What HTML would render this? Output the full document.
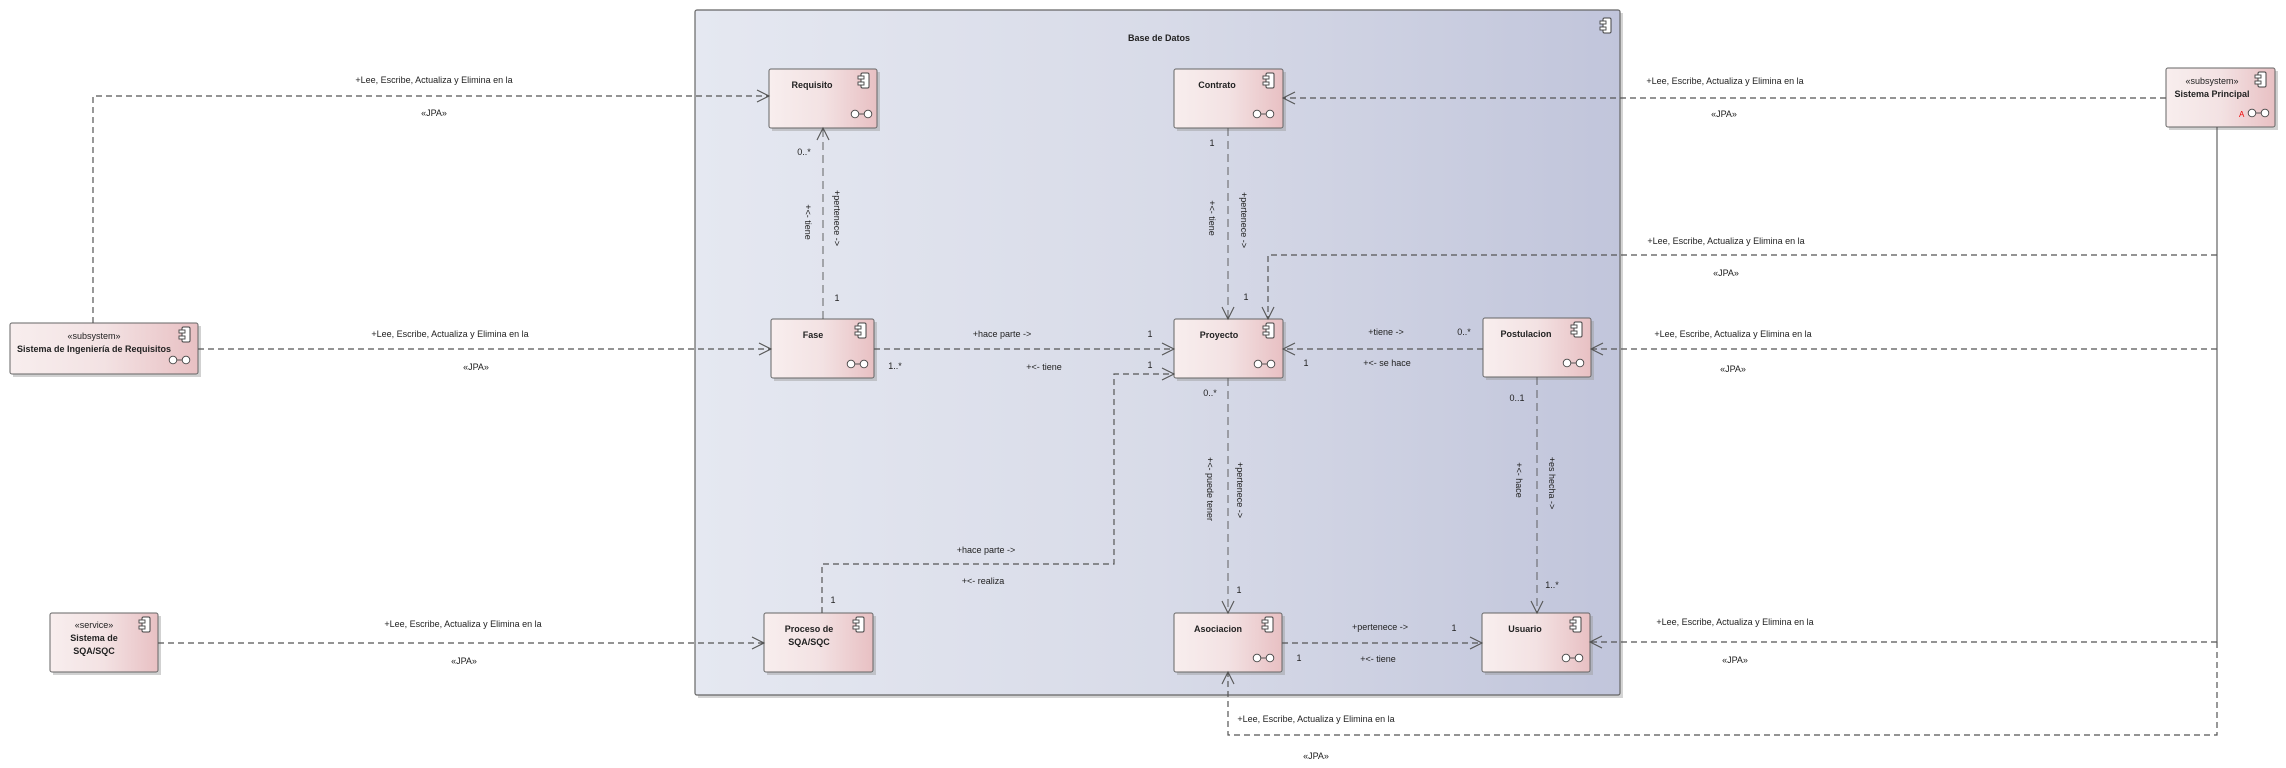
<!DOCTYPE html>
<html><head><meta charset="utf-8"><style>
html,body{margin:0;padding:0;background:#fff;}
svg{display:block;font-family:"Liberation Sans",sans-serif;}
.t{font-size:9px;fill:#222;}
.b{font-size:9px;fill:#222;font-weight:bold;}
.d{stroke:#555;stroke-width:1.2;fill:none;stroke-dasharray:6,4;}
.a{stroke:#555;stroke-width:1.1;fill:none;}
</style></head><body>
<svg width="2286" height="768" viewBox="0 0 2286 768" xmlns="http://www.w3.org/2000/svg">
<defs>
<linearGradient id="pk" x1="0" x2="1" y1="0" y2="0"><stop offset="0" stop-color="#e5e8f1"/><stop offset="0.5" stop-color="#d8dbe8"/><stop offset="1" stop-color="#c1c5db"/></linearGradient>
<linearGradient id="cp" x1="0" x2="1" y1="0" y2="0"><stop offset="0" stop-color="#f8eeee"/><stop offset="0.5" stop-color="#f3e2e3"/><stop offset="1" stop-color="#e8c0c3"/></linearGradient>
<g id="ci"><rect x="0" y="0" width="8" height="15" rx="1.5" fill="#fff" stroke="#444" stroke-width="1"/><rect x="-3" y="3" width="6" height="3" fill="#fff" stroke="#444" stroke-width="0.9"/><rect x="-3" y="9" width="6" height="3" fill="#fff" stroke="#444" stroke-width="0.9"/></g>
<g id="oo"><circle cx="4" cy="0" r="3.8" fill="#fff" stroke="#444" stroke-width="0.9"/><circle cx="17" cy="0" r="3.8" fill="#fff" stroke="#444" stroke-width="0.9"/><line x1="8" y1="0" x2="13" y2="0" stroke="#444" stroke-width="0.9"/></g>
</defs>

<rect x="698" y="13" width="925" height="685" fill="#aaa" opacity="0.5"/>
<rect x="695" y="10" width="925" height="685" fill="url(#pk)" stroke="#666" stroke-width="1.2" rx="2"/>
<text class="b" x="1159" y="41" text-anchor="middle">Base de Datos</text>
<use href="#ci" x="1603" y="18"/>

<g>
<rect x="772" y="72" width="108" height="59" fill="#999" opacity="0.45"/>
<rect x="769" y="69" width="108" height="59" fill="url(#cp)" stroke="#666" rx="2"/>
<text class="b" x="812" y="88" text-anchor="middle">Requisito</text><use href="#ci" x="861" y="73"/><use href="#oo" x="851" y="114"/>

<rect x="1177" y="72" width="109" height="59" fill="#999" opacity="0.45"/>
<rect x="1174" y="69" width="109" height="59" fill="url(#cp)" stroke="#666" rx="2"/>
<text class="b" x="1217" y="88" text-anchor="middle">Contrato</text><use href="#ci" x="1266" y="73"/><use href="#oo" x="1253" y="114"/>

<rect x="2169" y="71" width="109" height="59" fill="#999" opacity="0.45"/>
<rect x="2166" y="68" width="109" height="59" fill="url(#cp)" stroke="#666" rx="2"/>
<text class="t" x="2212" y="84" text-anchor="middle">«subsystem»</text>
<text class="b" x="2212" y="97" text-anchor="middle">Sistema Principal</text><use href="#ci" x="2258" y="72"/><use href="#oo" x="2248" y="113"/>
<text x="2239" y="117" font-size="8" fill="#e00">A</text>

<rect x="13" y="326" width="188" height="51" fill="#999" opacity="0.45"/>
<rect x="10" y="323" width="188" height="51" fill="url(#cp)" stroke="#666" rx="2"/>
<text class="t" x="94" y="339" text-anchor="middle">«subsystem»</text>
<text class="b" x="94" y="352" text-anchor="middle">Sistema de Ingeniería de Requisitos</text><use href="#ci" x="182" y="327"/><use href="#oo" x="169" y="360"/>

<rect x="774" y="322" width="103" height="59" fill="#999" opacity="0.45"/>
<rect x="771" y="319" width="103" height="59" fill="url(#cp)" stroke="#666" rx="2"/>
<text class="b" x="813" y="338" text-anchor="middle">Fase</text><use href="#ci" x="858" y="323"/><use href="#oo" x="847" y="364"/>

<rect x="1177" y="322" width="109" height="59" fill="#999" opacity="0.45"/>
<rect x="1174" y="319" width="109" height="59" fill="url(#cp)" stroke="#666" rx="2"/>
<text class="b" x="1219" y="338" text-anchor="middle">Proyecto</text><use href="#ci" x="1266" y="323"/><use href="#oo" x="1254" y="364"/>

<rect x="1486" y="321" width="108" height="59" fill="#999" opacity="0.45"/>
<rect x="1483" y="318" width="108" height="59" fill="url(#cp)" stroke="#666" rx="2"/>
<text class="b" x="1526" y="337" text-anchor="middle">Postulacion</text><use href="#ci" x="1574" y="322"/><use href="#oo" x="1563" y="363"/>

<rect x="53" y="616" width="108" height="59" fill="#999" opacity="0.45"/>
<rect x="50" y="613" width="108" height="59" fill="url(#cp)" stroke="#666" rx="2"/>
<text class="t" x="94" y="628" text-anchor="middle">«service»</text>
<text class="b" x="94" y="641" text-anchor="middle">Sistema de</text>
<text class="b" x="94" y="654" text-anchor="middle">SQA/SQC</text><use href="#ci" x="142" y="617"/>

<rect x="767" y="616" width="109" height="59" fill="#999" opacity="0.45"/>
<rect x="764" y="613" width="109" height="59" fill="url(#cp)" stroke="#666" rx="2"/>
<text class="b" x="809" y="632" text-anchor="middle">Proceso de</text>
<text class="b" x="809" y="645" text-anchor="middle">SQA/SQC</text><use href="#ci" x="856" y="617"/>

<rect x="1177" y="616" width="108" height="59" fill="#999" opacity="0.45"/>
<rect x="1174" y="613" width="108" height="59" fill="url(#cp)" stroke="#666" rx="2"/>
<text class="b" x="1218" y="632" text-anchor="middle">Asociacion</text><use href="#ci" x="1265" y="617"/><use href="#oo" x="1253" y="658"/>

<rect x="1485" y="616" width="108" height="59" fill="#999" opacity="0.45"/>
<rect x="1482" y="613" width="108" height="59" fill="url(#cp)" stroke="#666" rx="2"/>
<text class="b" x="1525" y="632" text-anchor="middle">Usuario</text><use href="#ci" x="1573" y="617"/><use href="#oo" x="1562" y="658"/>
</g>

<path class="d" d="M93,323 V96 H769"/><path class="a" d="M757,90 L769,96 L757,102"/>
<path class="d" d="M198,349 H771"/><path class="a" d="M759,343 L771,349 L759,355"/>
<path class="d" d="M2166,98 H1283"/><path class="a" d="M1295,92 L1283,98 L1295,104"/>
<path class="d" d="M823,319 V128" style="stroke-dasharray:8,5;stroke-width:0.9"/><path class="a" d="M817,140 L823,128 L829,140"/>
<path class="d" d="M1228,128 V319" style="stroke-dasharray:8,5;stroke-width:0.9"/><path class="a" d="M1222,307 L1228,319 L1234,307"/>
<path class="d" d="M2217,255 H1268 V319"/><path class="a" d="M1262,307 L1268,319 L1274,307"/>
<path d="M2217,127 V642" stroke="#555" stroke-width="1.1"/>
<path class="d" d="M2217,642 V735 H1228 V672"/><path class="a" d="M1222,684 L1228,672 L1234,684"/>
<path class="d" d="M874,349 H1174"/><path class="a" d="M1162,343 L1174,349 L1162,355"/>
<path class="d" d="M2217,349 H1591"/><path class="a" d="M1603,343 L1591,349 L1603,355"/>
<path class="d" d="M1483,349 H1283"/><path class="a" d="M1295,343 L1283,349 L1295,355"/>
<path class="d" d="M822,613 V564 H1114 V374 H1174"/><path class="a" d="M1162,368 L1174,374 L1162,380"/>
<path class="d" d="M158,643 H764"/><path class="a" d="M752,637 L764,643 L752,649"/>
<path class="d" d="M1228,378 V613" style="stroke-dasharray:8,5;stroke-width:0.9"/><path class="a" d="M1222,601 L1228,613 L1234,601"/>
<path class="d" d="M1537,377 V613" style="stroke-dasharray:8,5;stroke-width:0.9"/><path class="a" d="M1531,601 L1537,613 L1543,601"/>
<path class="d" d="M1282,643 H1482"/><path class="a" d="M1470,637 L1482,643 L1470,649"/>
<path class="d" d="M2217,642 H1590"/><path class="a" d="M1602,636 L1590,642 L1602,648"/>

<g class="t" text-anchor="middle">
<text x="434" y="83">+Lee, Escribe, Actualiza y Elimina en la</text><text x="434" y="116">«JPA»</text>
<text x="450" y="337">+Lee, Escribe, Actualiza y Elimina en la</text><text x="476" y="370">«JPA»</text>
<text x="1725" y="84">+Lee, Escribe, Actualiza y Elimina en la</text><text x="1724" y="117">«JPA»</text>
<text x="1726" y="244">+Lee, Escribe, Actualiza y Elimina en la</text><text x="1726" y="276">«JPA»</text>
<text x="1733" y="337">+Lee, Escribe, Actualiza y Elimina en la</text><text x="1733" y="372">«JPA»</text>
<text x="463" y="627">+Lee, Escribe, Actualiza y Elimina en la</text><text x="464" y="664">«JPA»</text>
<text x="1735" y="625">+Lee, Escribe, Actualiza y Elimina en la</text><text x="1735" y="663">«JPA»</text>
<text x="1316" y="722">+Lee, Escribe, Actualiza y Elimina en la</text><text x="1316" y="759">«JPA»</text>
<text x="804" y="155">0..*</text><text x="837" y="301">1</text>
<text x="1002" y="337">+hace parte -&gt;</text><text x="895" y="369">1..*</text><text x="1044" y="370">+&lt;- tiene</text>
<text x="1212" y="146">1</text><text x="1246" y="300">1</text><text x="1150" y="337">1</text><text x="1150" y="368">1</text>
<text x="1386" y="335">+tiene -&gt;</text><text x="1464" y="335">0..*</text><text x="1306" y="366">1</text><text x="1387" y="366">+&lt;- se hace</text>
<text x="1210" y="396">0..*</text><text x="1517" y="401">0..1</text>
<text x="986" y="553">+hace parte -&gt;</text><text x="983" y="584">+&lt;- realiza</text><text x="833" y="603">1</text>
<text x="1239" y="593">1</text><text x="1552" y="588">1..*</text>
<text x="1380" y="630">+pertenece -&gt;</text><text x="1454" y="631">1</text><text x="1299" y="661">1</text><text x="1378" y="662">+&lt;- tiene</text>
<text transform="translate(805,222) rotate(90)">+&lt;- tiene</text>
<text transform="translate(834,218) rotate(90)">+pertenece -&gt;</text>
<text transform="translate(1209,218) rotate(90)">+&lt;- tiene</text>
<text transform="translate(1241,220) rotate(90)">+pertenece -&gt;</text>
<text transform="translate(1207,489) rotate(90)">+&lt;- puede tener</text>
<text transform="translate(1237,490) rotate(90)">+pertenece -&gt;</text>
<text transform="translate(1516,480) rotate(90)">+&lt;- hace</text>
<text transform="translate(1549,483) rotate(90)">+es hecha -&gt;</text>
</g>
</svg>
</body></html>
